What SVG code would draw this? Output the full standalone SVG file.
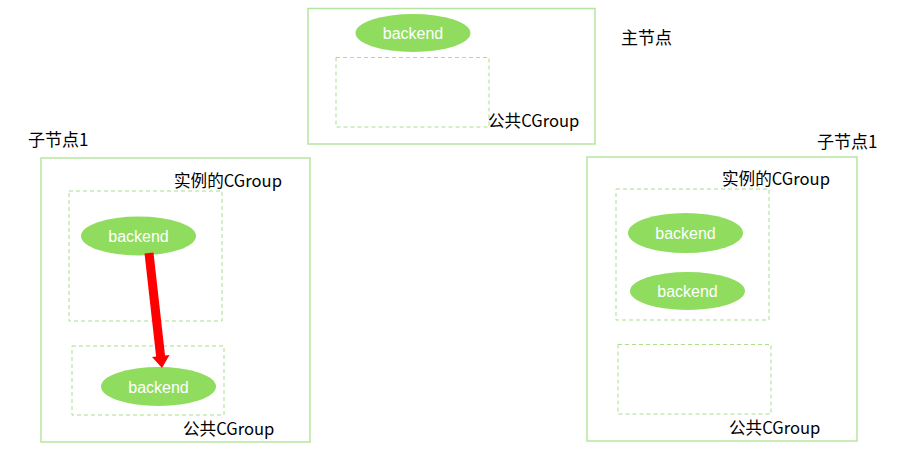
<svg xmlns="http://www.w3.org/2000/svg" width="900" height="452" viewBox="0 0 900 452">
<style>
.box{fill:none;stroke:#b5e6a1;stroke-width:1.5}
.dash{fill:none;stroke:#a9df8f;stroke-width:1;stroke-dasharray:4 3}
.ell{fill:#8fdc5e}
.bt{font-family:"Liberation Sans","Noto Sans",sans-serif;font-size:16px;fill:#ffffff;text-anchor:middle}
.lbl{font-family:"Noto Sans CJK SC","Noto Sans",sans-serif;font-size:16.6px;fill:#000000}
.big{font-family:"Noto Sans CJK SC","Noto Sans",sans-serif;font-size:17px;fill:#000000}
</style>
<rect width="900" height="452" fill="#ffffff"/>
<g id="master">
<rect class="box" x="308" y="8.5" width="287" height="135.5"/>
<rect class="dash" x="336" y="57.5" width="153" height="69.5"/>
<text class="lbl" x="488" y="127">公共CGroup</text>
<text class="big" x="621" y="44">主节点</text>
</g>
<g id="master-backend">
<ellipse class="ell" cx="413" cy="33" rx="57.5" ry="19"/>
<text class="bt" x="413" y="39">backend</text>
</g>
<g id="child-left">
<rect class="box" x="41" y="158" width="269" height="284"/>
<text class="big" x="28" y="146">子节点1</text>
<text class="lbl" x="174" y="187">实例的CGroup</text>
<rect class="dash" x="69" y="191" width="153" height="130"/>
<rect class="dash" x="72" y="346" width="152" height="69"/>
<text class="lbl" x="183" y="435">公共CGroup</text>
</g>
<g id="left-backend-1">
<ellipse class="ell" cx="138.5" cy="236" rx="57.5" ry="19.5"/>
<text class="bt" x="138.5" y="242">backend</text>
</g>
<g id="left-backend-2">
<ellipse class="ell" cx="158.5" cy="386.5" rx="57.5" ry="19.5"/>
<text class="bt" x="158.5" y="392.5">backend</text>
</g>
<g id="child-right">
<rect class="box" x="587" y="157" width="270" height="284"/>
<text class="big" x="817" y="148">子节点1</text>
<text class="lbl" x="722" y="185">实例的CGroup</text>
<rect class="dash" x="616" y="189" width="153" height="131"/>
<rect class="dash" x="618" y="344.5" width="153" height="69.5"/>
<text class="lbl" x="729" y="434">公共CGroup</text>
</g>
<g id="right-backend-1">
<ellipse class="ell" cx="685.5" cy="233" rx="57.5" ry="20"/>
<text class="bt" x="685.5" y="239">backend</text>
</g>
<g id="right-backend-2">
<ellipse class="ell" cx="687.5" cy="291" rx="57.5" ry="19"/>
<text class="bt" x="687.5" y="297">backend</text>
</g>
<g id="connectors">
<line x1="149" y1="253" x2="160.7" y2="357" stroke="#ff0000" stroke-width="9"/>
<polygon points="169.5,355 152,357 162,368" fill="#ff0000"/>
</g>
</svg>
